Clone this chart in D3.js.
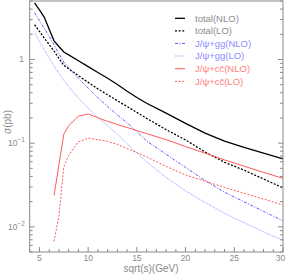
<!DOCTYPE html>
<html><head><meta charset="utf-8">
<script src="https://cdn.jsdelivr.net/npm/d3@7"></script>
<style>body{margin:0;background:#fff}svg{display:block}text{font-family:'Liberation Sans',Arial,sans-serif}</style>
</head><body><svg id="c" width="286" height="274"></svg>
<script>
const energies = [4.5,5,5.5,6,6.5,7,7.5,8,9,10,11,12,13,14,15,16,18,20,22,24,26,28,30];
const energiesCC = [6.5,7,7.5,8,9,10,11,12,13,14,15,16,18,20,22,24,26,28,30];
const totalNLO = [4.75,3.91,3.19,2.30,1.67,1.43,1.23,1.135,0.966,0.822,0.70,0.597,0.502,0.417,0.351,0.30,0.228,0.172,0.132,0.106,0.089,0.076,0.065];
const totalLO = [2.6,2.17,1.80,1.51,1.26,1.03,0.851,0.774,0.641,0.533,0.445,0.378,0.321,0.274,0.233,0.198,0.145,0.109,0.0785,0.059,0.0476,0.0373,0.0292];
const ggNLO = [3.63,2.92,2.36,1.88,1.50,1.17,0.929,0.80,0.597,0.455,0.348,0.274,0.217,0.175,0.137,0.106,0.0737,0.0513,0.0357,0.0259,0.0199,0.0153,0.0118];
const ggLO = [2.09,1.65,1.30,1.04,0.832,0.681,0.56,0.476,0.345,0.262,0.202,0.163,0.128,0.098,0.0762,0.060,0.0389,0.0269,0.0195,0.0145,0.0112,0.0087,0.0069];
const ccNLO = [0.0238,0.055,0.128,0.162,0.210,0.223,0.201,0.182,0.167,0.154,0.141,0.130,0.110,0.0912,0.0759,0.0631,0.0531,0.0447,0.038];
const ccLO = [0.0067,0.0135,0.052,0.0715,0.1035,0.115,0.1096,0.105,0.0966,0.0863,0.077,0.0686,0.0528,0.0417,0.0351,0.0296,0.0252,0.0215,0.0182];
const legendLabels = ["total(NLO)","total(LO)","J/\u03c8+gg(NLO)","J/\u03c8+gg(LO)","J/\u03c8+c\u0063\u0304(NLO)","J/\u03c8+c\u0063\u0304(LO)"];
const xTicks = [5,10,15,20,25,30];
const yMajor = [1,0.1,0.01];

const svg = d3.select("#c");
const L=29.7,R=283,T=1,B=252;
const x = d3.scaleLinear().domain([4,30]).range([L,R]);
const y = d3.scaleLog().domain([0.005,5]).range([B,T]);
const axisCol="#8a8a8a";

const series = [
 {e:energies,v:totalNLO,c:"#000",w:1.3,d:null,lc:"#8c8c8c"},
 {e:energies,v:totalLO,c:"#000",w:1.3,d:"2,1.6",lc:"#8c8c8c"},
 {e:energies,v:ggNLO,c:"#5a5aff",w:1,d:"3,1.5,1,1.5",lc:"#8c8cff"},
 {e:energies,v:ggLO,c:"#a8a8ff",w:1,d:"1,0.6",lc:"#8c8cff"},
 {e:energiesCC,v:ccNLO,c:"#ff5a5a",w:1,d:null,lc:"#ff8080"},
 {e:energiesCC,v:ccLO,c:"#ff5a5a",w:1,d:"2,1.6",lc:"#ff8080"}
];
const line = d3.line().x(d=>x(d[0])).y(d=>y(d[1]));
series.forEach(s=>{
  svg.append("path").datum(s.e.map((e,i)=>[e,s.v[i]]))
    .attr("d",line).attr("fill","none").attr("stroke",s.c)
    .attr("stroke-width",s.w).attr("stroke-dasharray",s.d);
});

svg.append("rect").attr("x",L).attr("y",T).attr("width",R-L).attr("height",B-T)
  .attr("fill","none").attr("stroke",axisCol).attr("stroke-width",1);

const g = svg.append("g").attr("stroke",axisCol).attr("stroke-width",1);
d3.range(4,31).forEach(v=>{
  const maj = xTicks.includes(v);
  g.append("line").attr("x1",x(v)).attr("x2",x(v)).attr("y1",B).attr("y2",B-(maj?5:3));
});
xTicks.forEach(v=>{
  svg.append("text").attr("x",Math.min(x(v),280.5)).attr("y",261).attr("text-anchor","middle")
   .attr("font-size",8.5).attr("fill","#8a8a8a").text(v);
});
const yt=[];
[0.001,0.01,0.1,1].forEach(dec=>{for(let k=1;k<10;k++){const v=dec*k; if(v>=0.005&&v<=5) yt.push([v,k===1]);}});
yt.forEach(([v,maj])=>{
  g.append("line").attr("x1",L).attr("x2",L+(maj?5:3)).attr("y1",y(v)).attr("y2",y(v));
  g.append("line").attr("x1",R).attr("x2",R-(maj?5:3)).attr("y1",y(v)).attr("y2",y(v));
});
yMajor.forEach(v=>{
  const t = svg.append("text").attr("y",y(v)+3).attr("font-size",8.5).attr("fill","#8a8a8a").attr("text-anchor","end");
  if(v===1){ t.attr("x",24).text("1"); }
  else {
    t.attr("x",25);
    t.append("tspan").text("10");
    t.append("tspan").attr("dy",-4).attr("font-size",6.5).text("\u2212"+String(-Math.round(Math.log10(v))));
  }
});
svg.append("text").attr("x",151).attr("y",272).attr("text-anchor","middle")
  .attr("font-size",10).attr("fill","#8a8a8a").text("sqrt(s)(GeV)");
svg.append("text").attr("transform","translate(11,122) rotate(-90)").attr("text-anchor","middle")
  .attr("font-size",10).attr("fill","#8a8a8a").text("\u03c3(pb)");

const ly=[18.3,30.8,43.4,56,68.7,81.4];
series.forEach((s,i)=>{
  svg.append("line").attr("x1",175).attr("x2",185).attr("y1",ly[i]).attr("y2",ly[i])
    .attr("stroke",s.c).attr("stroke-width",s.w).attr("stroke-dasharray",s.d);
  svg.append("text").attr("x",195).attr("y",ly[i]+3.4).attr("font-size",9.5)
    .attr("fill",s.lc).text(legendLabels[i]);
});
</script></body></html>
